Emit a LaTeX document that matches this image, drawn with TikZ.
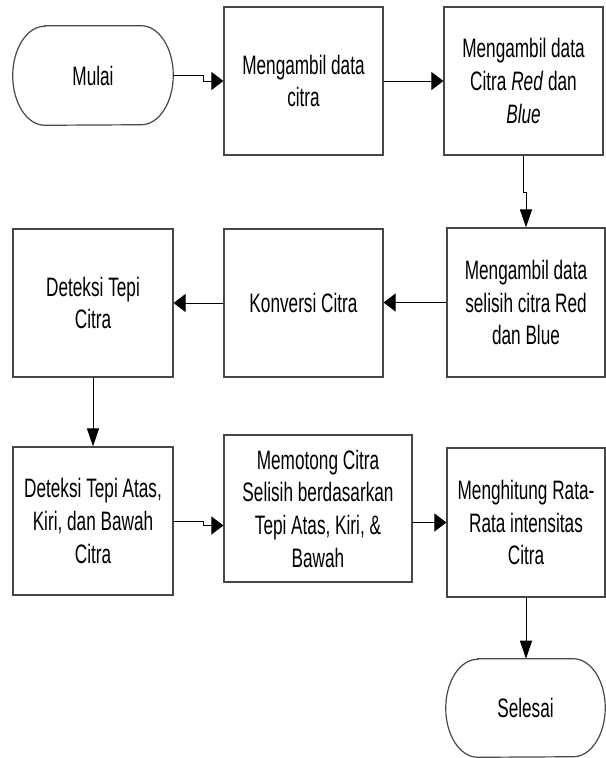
\documentclass[tikz,border=0pt]{standalone}
\usepackage{fontspec}
\setmainfont{Liberation Sans}[FakeStretch=0.645]
\usetikzlibrary{arrows.meta}
\tikzset{
  boxline/.style={draw=black!72, line width=0.9pt},
  stepbox/.style={boxline, rectangle, inner sep=0pt, align=center,
     font=\fontsize{20pt}{24.5pt}\selectfont},
  termnode/.style={rectangle, inner sep=0pt, align=center, draw=none,
     minimum width=120pt, minimum height=74.25pt,
     font=\fontsize{20pt}{24.5pt}\selectfont},
  conn/.style={draw=black, line width=0.75pt},
  harrow/.style={conn, -{Triangle[length=9pt,width=13.5pt]}},
  varrow/.style={conn, -{Triangle[length=13.5pt,width=9pt]}}
}
\newcommand\termoutline[1]{%
  \draw[boxline] ([xshift=24pt]#1.north west) -- ([xshift=-24pt]#1.north east)
    arc[start angle=90,end angle=-90,x radius=24pt,y radius=37.125pt]
    -- ([xshift=24pt]#1.south west)
    arc[start angle=270,end angle=90,x radius=24pt,y radius=37.125pt] -- cycle;}
\begin{document}
\begin{tikzpicture}[x=0.75pt,y=-0.75pt]
\useasboundingbox (0,0) rectangle (606,758);
\fill[white] (0,0) rectangle (606,758);

\node[termnode] (mulai) at (93,75.5) {Mulai};
\termoutline{mulai}
\node[stepbox, minimum width=119.25pt, minimum height=111pt] (ambil) at (303.5,81) {Mengambil data\\citra};
\node[stepbox, minimum width=119.25pt, minimum height=111pt] (rb) at (523.5,81) {Mengambil data\\Citra \textit{Red} dan\\\textit{Blue}};
\node[stepbox, minimum width=118.5pt, minimum height=111.75pt] (selisih) at (526,302.5) {Mengambil data\\selisih citra Red\\dan Blue};
\node[stepbox, minimum width=119.25pt, minimum height=111pt] (konversi) at (303.5,303) {Konversi Citra};
\node[stepbox, minimum width=120pt, minimum height=111pt] (deteksi) at (93,303) {Deteksi Tepi\\Citra};
\node[stepbox, minimum width=120pt, minimum height=111pt] (atas) at (93,521) {Deteksi Tepi Atas,\\Kiri, dan Bawah\\Citra};
\node[stepbox, minimum width=141pt, minimum height=110.25pt] (memotong) at (318,508.5) {Memotong Citra\\Selisih berdasarkan\\Tepi Atas, Kiri, \&\\Bawah};
\node[stepbox, minimum width=118.5pt, minimum height=111.75pt] (hitung) at (526,522.5) {Menghitung Rata-\\Rata intensitas\\Citra};
\node[termnode, minimum width=119.25pt, minimum height=73.5pt] (selesai) at (525.5,708) {Selesai};
\draw[boxline] ([xshift=24pt]selesai.north west) -- ([xshift=-24pt]selesai.north east)
    arc[start angle=90,end angle=-90,x radius=24pt,y radius=36.75pt]
    -- ([xshift=24pt]selesai.south west)
    arc[start angle=270,end angle=90,x radius=24pt,y radius=36.75pt] -- cycle;

\draw[harrow] (mulai.east) -- ++(30,0) |- (ambil.west);
\draw[harrow] (ambil.east) -- (rb.west);
\draw[varrow] (rb.south) -- ++(0,37) -| (selisih.north);
\draw[harrow] (selisih.west) -- (selisih.west -| konversi.east);
\draw[harrow] (konversi.west) -- (konversi.west -| deteksi.east);
\draw[varrow] (deteksi.south) -- (atas.north);
\draw[harrow] (atas.east) -- ++(30,0) |- ([yshift=-12.75pt]memotong.west);
\draw[harrow] ([yshift=-10.5pt]memotong.east) -- (hitung.west);
\draw[varrow] (hitung.south) -- (hitung.south |- selesai.north);
\end{tikzpicture}
\end{document}
